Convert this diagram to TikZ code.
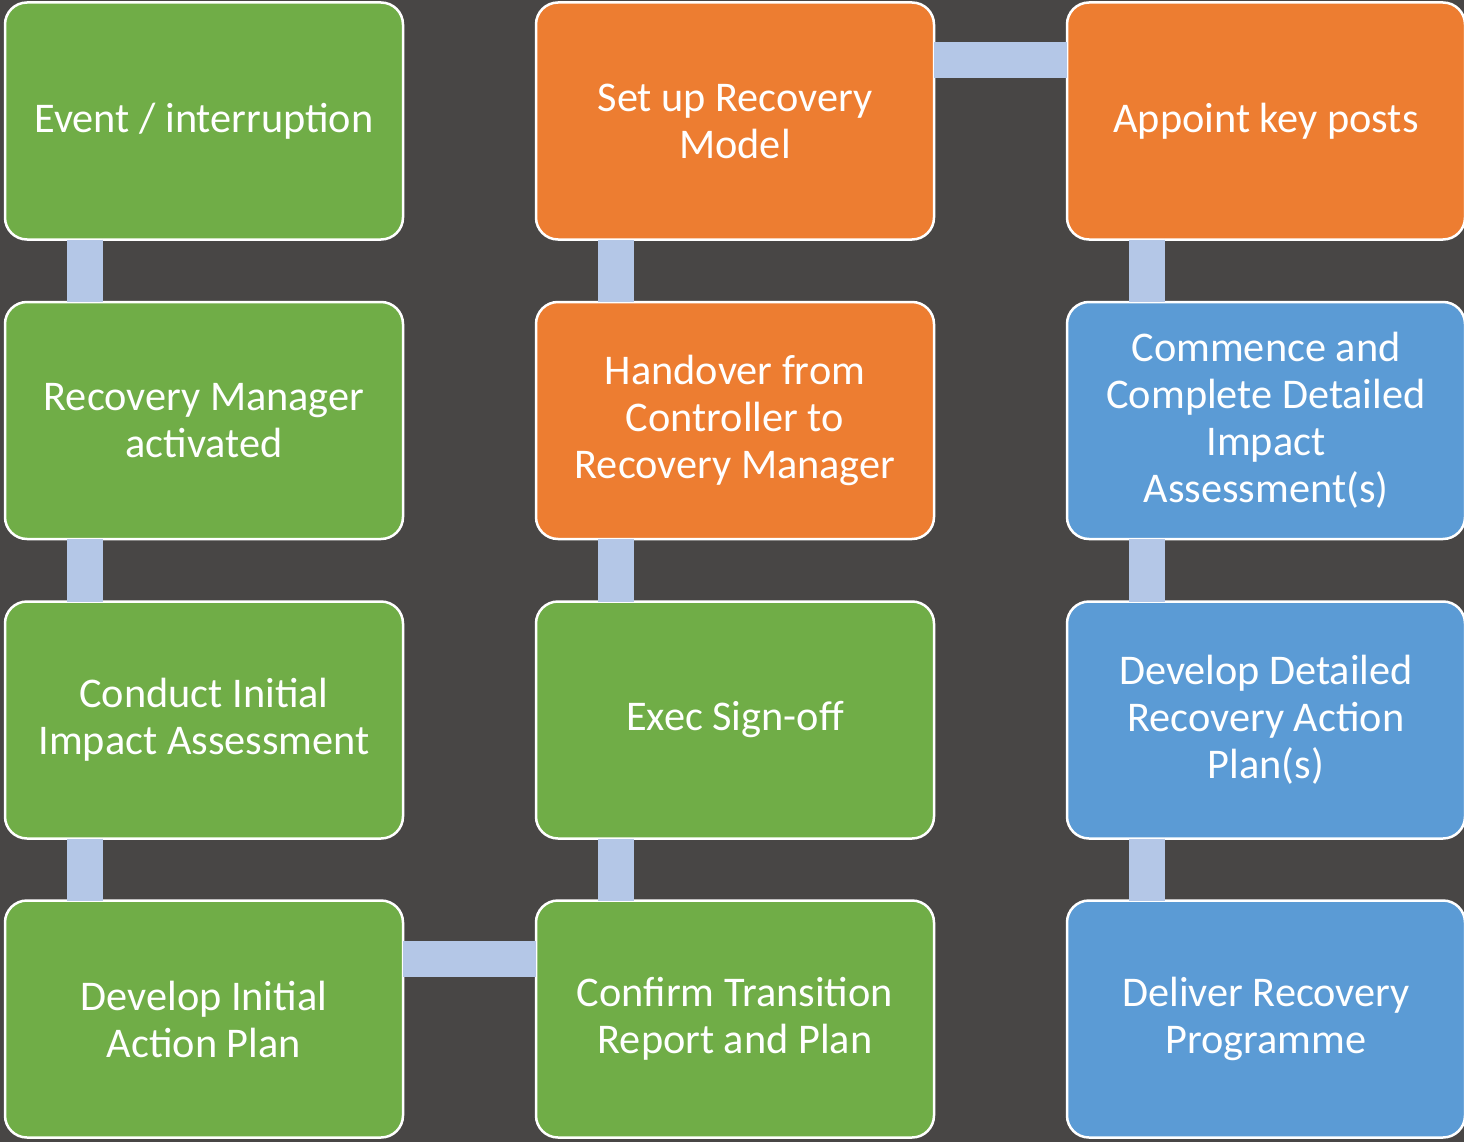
\documentclass[tikz,border=0pt]{standalone}
\usepackage{fontspec}
\setmainfont{Carlito}
\definecolor{bgdark}{HTML}{484645}
\definecolor{stepgreen}{HTML}{70AD47}
\definecolor{steporange}{HTML}{ED7D31}
\definecolor{stepblue}{HTML}{5B9BD5}
\definecolor{linkblue}{HTML}{B4C7E7}
\tikzstyle{card}=[draw=white, line width=2.5pt, rounded corners=22pt, minimum width=398pt, minimum height=237pt, outer sep=0pt, text=white, align=center, font=\fontsize{42.3}{47}\selectfont]
\tikzstyle{link}=[linkblue, line width=36pt]

\begin{document}
\begin{tikzpicture}[x=1pt, y=-1pt]
% Background
    \fill[bgdark] (0,0) rectangle (1464,1142);
    \useasboundingbox (0,0) rectangle (1464,1142);
% Boxes
    \node[card, fill=stepgreen] (event) at (204,121) {Event / interruption};
    \node[card, fill=stepgreen] (rmact) at (204,420.5) {Recovery Manager\\activated};
    \node[card, fill=stepgreen] (initassess) at (204,720) {Conduct Initial\\Impact Assessment};
    \node[card, fill=stepgreen] (initplan) at (204,1019) {Develop Initial\\Action Plan};
    \node[card, fill=steporange] (model) at (735,121) {Set up Recovery\\Model};
    \node[card, fill=steporange] (handover) at (735,420.5) {Handover from\\Controller to\\Recovery Manager};
    \node[card, fill=stepgreen] (signoff) at (735,720) {Exec Sign-off};
    \node[card, fill=stepgreen] (transition) at (735,1019) {Confirm Transition\\Report and Plan};
    \node[card, fill=steporange] (posts) at (1266,121) {Appoint key posts};
    \node[card, fill=stepblue] (detassess) at (1266,420.5) {Commence and\\Complete Detailed\\Impact\\Assessment(s)};
    \node[card, fill=stepblue] (detplan) at (1266,720) {Develop Detailed\\Recovery Action\\Plan(s)};
    \node[card, fill=stepblue] (deliver) at (1266,1019) {Deliver Recovery\\Programme};
% Links
    \draw[link] ([xshift=80pt]event.south west) -- ([xshift=80pt]rmact.north west);
    \draw[link] ([xshift=80pt]rmact.south west) -- ([xshift=80pt]initassess.north west);
    \draw[link] ([xshift=80pt]initassess.south west) -- ([xshift=80pt]initplan.north west);
    \draw[link] ([yshift=-58pt]initplan.north east) -- ([yshift=-58pt]transition.north west);
    \draw[link] ([xshift=80pt]transition.north west) -- ([xshift=80pt]signoff.south west);
    \draw[link] ([xshift=80pt]signoff.north west) -- ([xshift=80pt]handover.south west);
    \draw[link] ([xshift=80pt]handover.north west) -- ([xshift=80pt]model.south west);
    \draw[link] ([yshift=-58pt]model.north east) -- ([yshift=-58pt]posts.north west);
    \draw[link] ([xshift=80pt]posts.south west) -- ([xshift=80pt]detassess.north west);
    \draw[link] ([xshift=80pt]detassess.south west) -- ([xshift=80pt]detplan.north west);
    \draw[link] ([xshift=80pt]detplan.south west) -- ([xshift=80pt]deliver.north west);
\end{tikzpicture}
\end{document}
